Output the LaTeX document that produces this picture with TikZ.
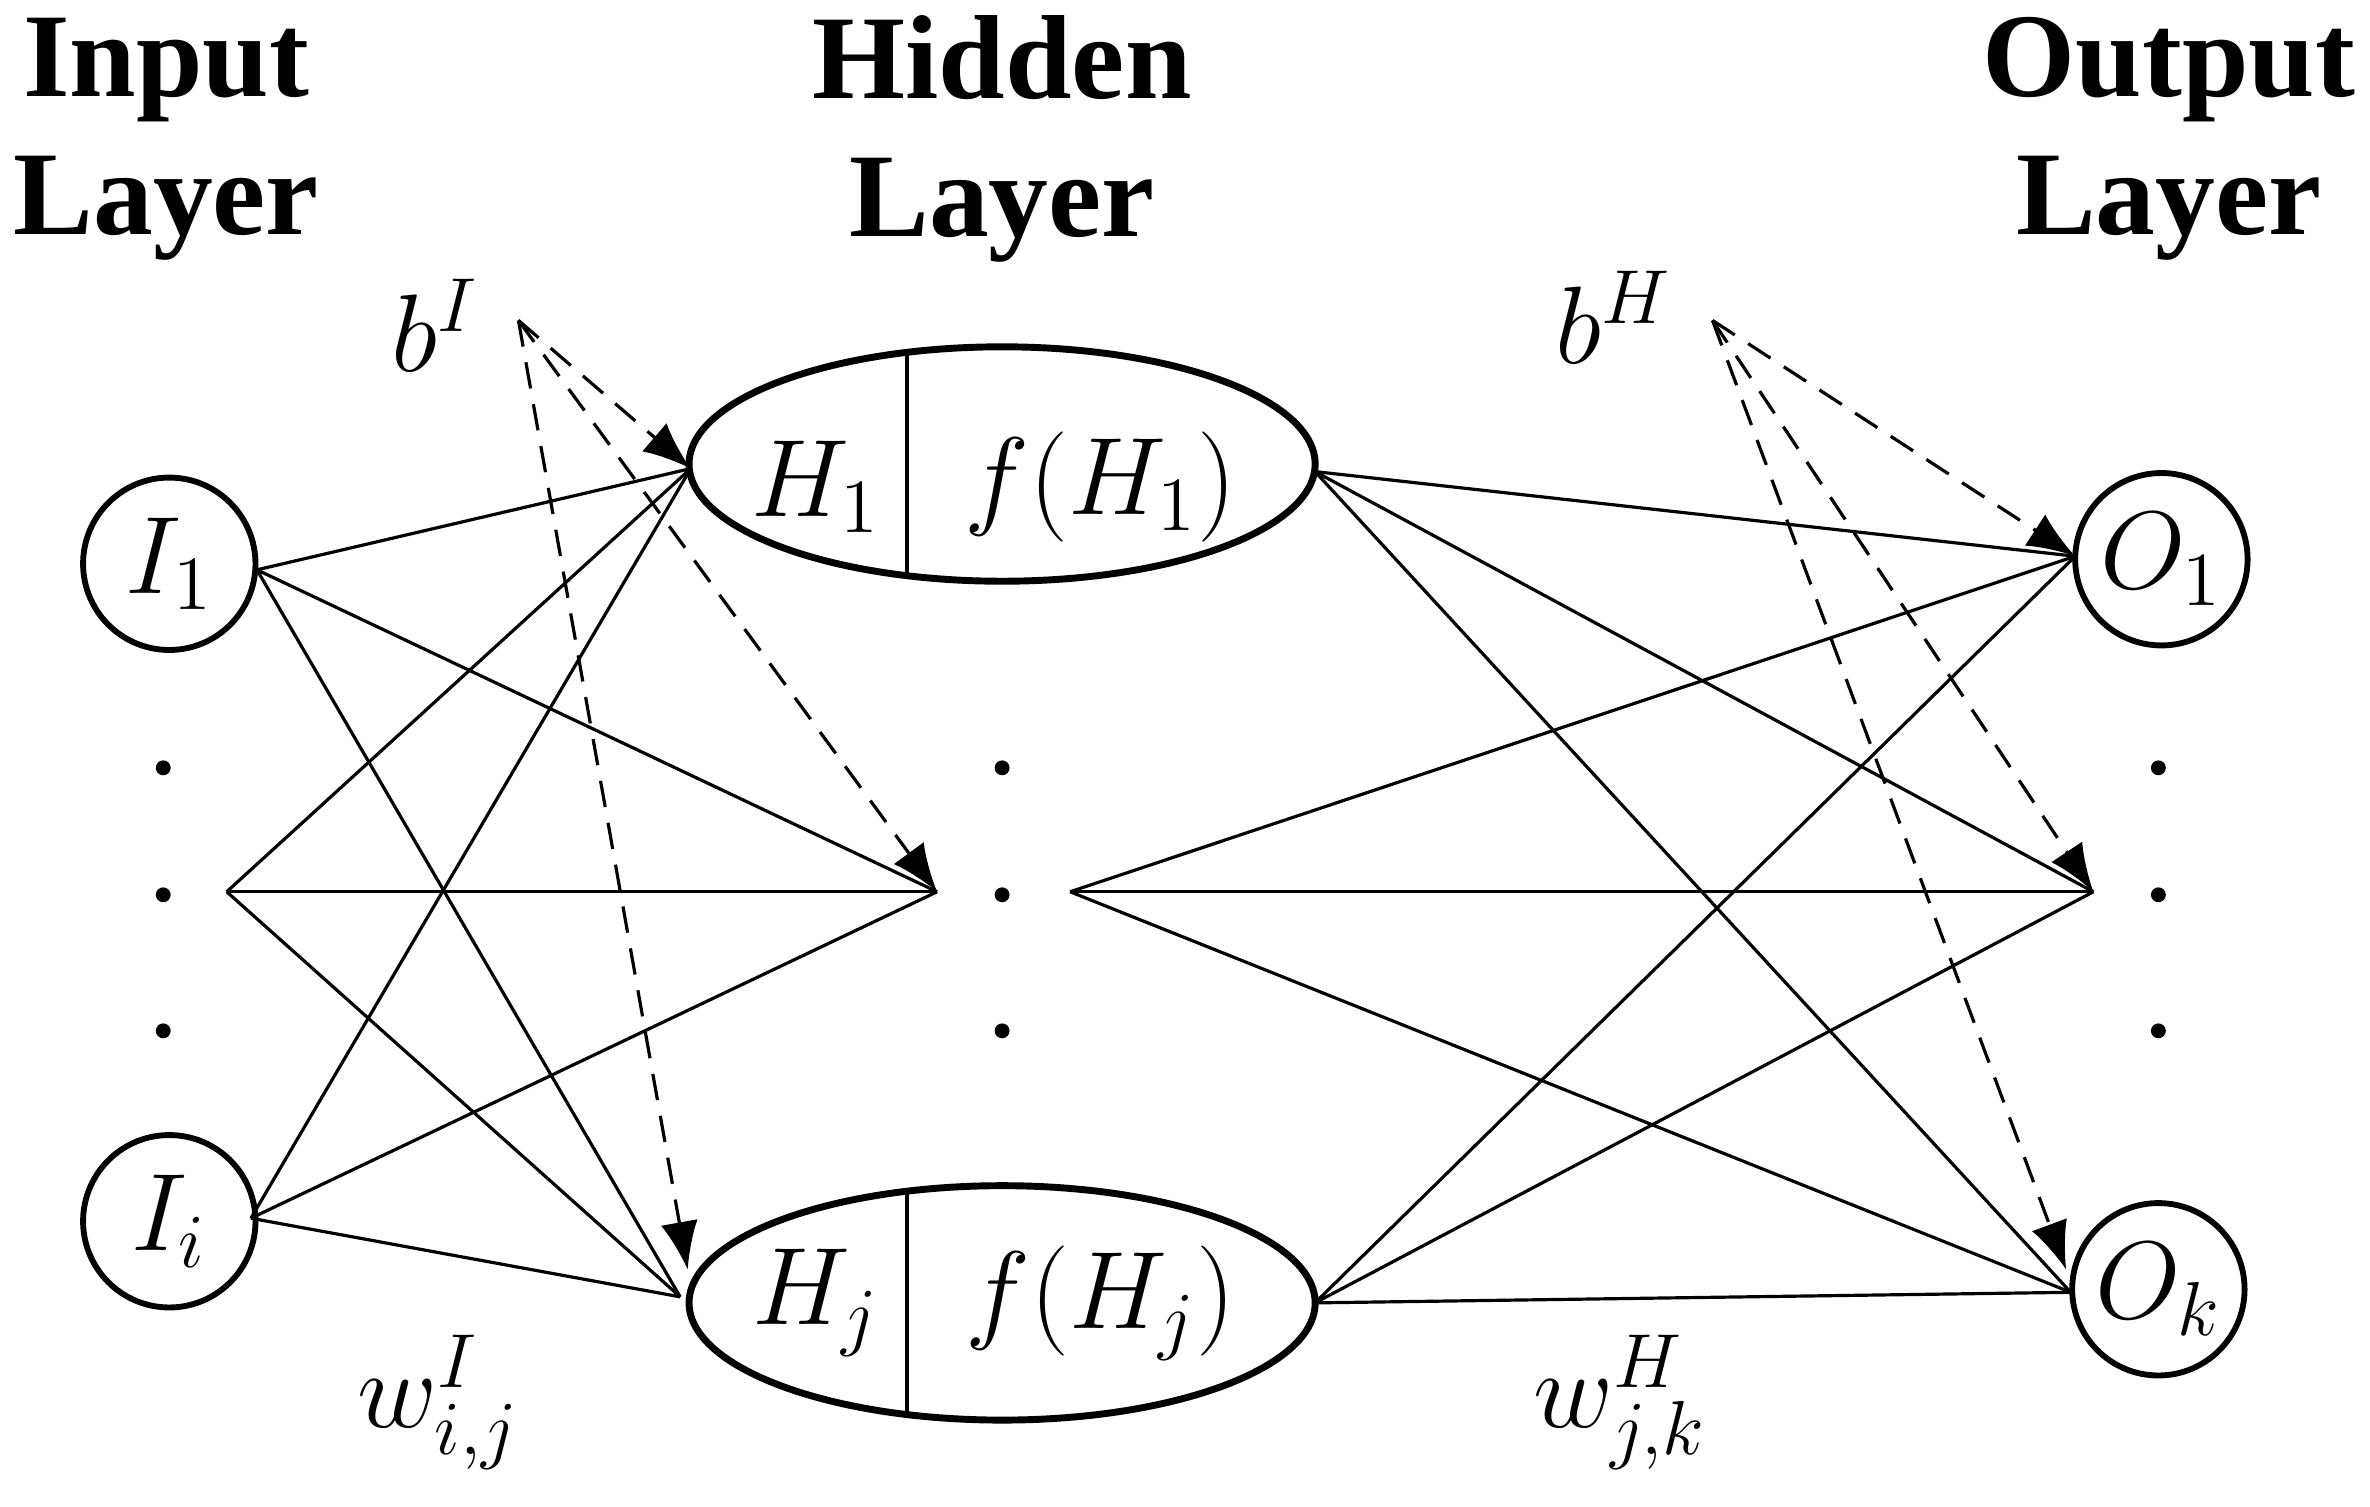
\documentclass[tikz,border=0pt]{standalone}
\usepackage{fontspec}
\setmainfont{Liberation Serif}
\usetikzlibrary{arrows.meta,shapes.geometric}
\begin{document}
\begin{tikzpicture}[x=0.01cm,y=-0.01cm,
  title/.style={font=\fontsize{22.5}{26}\selectfont\bfseries,align=center},
  neuron/.style={circle,draw,line width=1.1pt,minimum size=1.14cm,inner sep=0pt,font=\fontsize{22}{25}\selectfont},
  hid/.style={ellipse,draw,line width=1.3pt,minimum width=4.14cm,minimum height=1.55cm,inner sep=0pt},
  lab/.style={font=\fontsize{22}{25}\selectfont},
  conn/.style={line width=0.6pt},
  bias/.style={line width=0.6pt,dashed,dash pattern=on 5pt off 3pt,-{Latex[length=9pt,width=7pt]}},
  dot/.style={circle,fill,inner sep=0pt,minimum size=2.8pt}]
\useasboundingbox (0,0) rectangle (1568,997);
\node[title] (ti) at (110,92) {Input\\Layer};
\node[title] (th) at (663,92) {Hidden\\Layer};
\node[title] (to) at (1435,92) {Output\\Layer};
\node[neuron] (I1) at (112,373) {$I_1$};
\node[neuron] (Ii) at (112,808) {$I_i$};
\node[neuron] (O1) at (1430,370) {$O_1$};
\node[neuron] (Ok) at (1428,853) {$O_k$};
\node[hid] (H1) at (663,307) {};
\node[hid] (Hj) at (663,862) {};
\draw[line width=0.8pt] (600,232) -- (600,383);
\draw[line width=0.8pt] (600,787) -- (600,938);
\node[lab] (h1a) at (540,322) {$H_1$};
\node[lab] (h1b) at (728,322) {$f(H_1)$};
\node[lab] (hja) at (540,862) {$H_j$};
\node[lab] (hjb) at (728,862) {$f(H_j)$};
\foreach \x/\n in {108/a,663/b,1428/c}{
  \node[dot] (d1\n) at (\x,508) {};
  \node[dot] (d2\n) at (\x,592) {};
  \node[dot] (d3\n) at (\x,682) {};}
\coordinate (Im) at (150,590);
\coordinate (Hin) at (620,590);
\coordinate (Hout) at (708,590);
\coordinate (Om) at (1385,590);
\coordinate (H1l) at (457,310);
\coordinate (Hjl) at (450,858);
\coordinate (H1r) at (870,312);
\coordinate (Hjr) at (870,862);
\coordinate (O1l) at (1373,368);
\coordinate (Okl) at (1370,855);
\coordinate (I1r) at (170,377);
\coordinate (Iir) at (166,806);
\foreach \s in {I1r,Im,Iir}{\foreach \t in {H1l,Hin,Hjl}{\draw[conn] (\s) -- (\t);}}
\foreach \s in {H1r,Hout,Hjr}{\foreach \t in {O1l,Om,Okl}{\draw[conn] (\s) -- (\t);}}
\node[lab] (bI) at (288,215) {$b^I$};
\node[lab] (bH) at (1068,210) {$b^H$};
\coordinate (bIs) at (343,212);
\coordinate (bHs) at (1133,212);
\draw[bias] (bIs) -- (H1l);
\draw[bias] (bIs) -- (Hin);
\draw[bias] (bIs) -- (455,840);
\draw[bias] (bHs) -- (O1l);
\draw[bias] (bHs) -- (Om);
\draw[bias] (bHs) -- (1367,840);
\node[lab] (wI) at (290,928) {$w^I_{i,j}$};
\node[lab] (wH) at (1072,928) {$w^H_{j,k}$};
\end{tikzpicture}
\end{document}
